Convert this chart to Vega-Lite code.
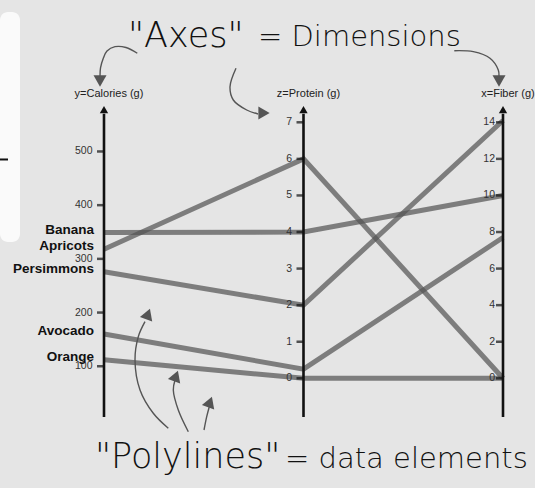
{
  "$schema": "https://vega.github.io/schema/vega-lite/v6.json",
  "width": 535,
  "height": 488,
  "autosize": "none",
  "padding": 0,
  "background": "#e5e5e5",
  "config": {"view": {"stroke": null}},
  "datasets": {
    "fruits": [
      {"fruit": "Banana", "Calories": 349, "Protein": 4, "Fiber": 10},
      {"fruit": "Apricots", "Calories": 318, "Protein": 6, "Fiber": 0},
      {"fruit": "Persimmons", "Calories": 276, "Protein": 2, "Fiber": 14.1},
      {"fruit": "Avocado", "Calories": 160, "Protein": 0.25, "Fiber": 7.7},
      {"fruit": "Orange", "Calories": 112, "Protein": 0, "Fiber": 0}
    ],
    "dims": [
      {"dim": "Calories", "title": "y=Calories (g)", "idx": 0, "lo": 5.5, "hi": 584.7},
      {"dim": "Protein", "title": "z=Protein (g)", "idx": 1, "lo": -1.058, "hi": 7.446},
      {"dim": "Fiber", "title": "x=Fiber (g)", "idx": 2, "lo": -2.116, "hi": 14.892}
    ],
    "ticks": [
      {"dim": "Calories", "value": 100}, {"dim": "Calories", "value": 200}, {"dim": "Calories", "value": 300},
      {"dim": "Calories", "value": 400}, {"dim": "Calories", "value": 500},
      {"dim": "Protein", "value": 0}, {"dim": "Protein", "value": 1}, {"dim": "Protein", "value": 2},
      {"dim": "Protein", "value": 3}, {"dim": "Protein", "value": 4}, {"dim": "Protein", "value": 5},
      {"dim": "Protein", "value": 6}, {"dim": "Protein", "value": 7},
      {"dim": "Fiber", "value": 0}, {"dim": "Fiber", "value": 2}, {"dim": "Fiber", "value": 4},
      {"dim": "Fiber", "value": 6}, {"dim": "Fiber", "value": 8}, {"dim": "Fiber", "value": 10},
      {"dim": "Fiber", "value": 12}, {"dim": "Fiber", "value": 14}
    ],
    "arrows": [
      {"arrow": "a1", "k": 0, "x": 0.1669, "y": 1.1695},
      {"arrow": "a1", "k": 1, "x": 0.1103, "y": 1.1881},
      {"arrow": "a1", "k": 2, "x": 0.0551, "y": 1.1907},
      {"arrow": "a1", "k": 3, "x": 0.0150, "y": 1.1768},
      {"arrow": "a1", "k": 4, "x": -0.0035, "y": 1.1534},
      {"arrow": "a1", "k": 5, "x": -0.0175, "y": 1.1222},
      {"arrow": "a1", "k": 6, "x": -0.0200, "y": 1.0965},
      {"arrow": "a2", "k": 0, "x": 0.6617, "y": 1.1212},
      {"arrow": "a2", "k": 1, "x": 0.6316, "y": 1.0621},
      {"arrow": "a2", "k": 2, "x": 0.6481, "y": 1.0193},
      {"arrow": "a2", "k": 3, "x": 0.7153, "y": 0.9871},
      {"arrow": "a2", "k": 4, "x": 0.7719, "y": 0.9743},
      {"arrow": "a3", "k": 0, "x": 1.7559, "y": 1.1778},
      {"arrow": "a3", "k": 1, "x": 1.8511, "y": 1.1746},
      {"arrow": "a3", "k": 2, "x": 1.9348, "y": 1.1534},
      {"arrow": "a3", "k": 3, "x": 1.9764, "y": 1.1158},
      {"arrow": "a3", "k": 4, "x": 1.9800, "y": 1.0965},
      {"arrow": "a4", "k": 0, "x": 0.3223, "y": -0.0363},
      {"arrow": "a4", "k": 1, "x": 0.2471, "y": 0.0119},
      {"arrow": "a4", "k": 2, "x": 0.1805, "y": 0.0868},
      {"arrow": "a4", "k": 3, "x": 0.1554, "y": 0.1833},
      {"arrow": "a4", "k": 4, "x": 0.1719, "y": 0.2582},
      {"arrow": "a4", "k": 5, "x": 0.2055, "y": 0.3064},
      {"arrow": "a5", "k": 0, "x": 0.4226, "y": -0.0473},
      {"arrow": "a5", "k": 1, "x": 0.3724, "y": 0.0225},
      {"arrow": "a5", "k": 2, "x": 0.3474, "y": 0.0868},
      {"arrow": "a5", "k": 3, "x": 0.3559, "y": 0.1190},
      {"arrow": "a6", "k": 0, "x": 0.5013, "y": -0.0418},
      {"arrow": "a6", "k": 1, "x": 0.5148, "y": 0.0010},
      {"arrow": "a6", "k": 2, "x": 0.5278, "y": 0.0331}
    ],
    "heads": [
      {"arrow": "a1", "dir": "down", "x": -0.0200, "y": 1.0804},
      {"arrow": "a3", "dir": "down", "x": 1.9800, "y": 1.0804},
      {"arrow": "a2", "dir": "right", "x": 0.8020, "y": 0.9775},
      {"arrow": "a4", "dir": "up", "x": 0.2206, "y": 0.3312},
      {"arrow": "a5", "dir": "up", "x": 0.3609, "y": 0.1318},
      {"arrow": "a6", "dir": "up", "x": 0.5313, "y": 0.0482}
    ],
    "notes": [
      {"role": "term", "label": "\"Axes\"", "x": 0.1203, "y": 1.1897},
      {"role": "meaning", "label": "= Dimensions", "x": 0.7719, "y": 1.1929},
      {"role": "term", "label": "\"Polylines\"", "x": -0.0451, "y": -0.164},
      {"role": "meaning", "label": "= data elements", "x": 0.9073, "y": -0.164}
    ],
    "panel": [
      {"x": -0.5213, "x2": -0.421, "y": 0.5627, "y2": 1.3023}
    ],
    "dash": [
      {"x": -0.5213, "x2": -0.4812, "y": 0.828}
    ]
  },
  "layer": [
    {
      "data": {"name": "panel"},
      "mark": {"type": "rect", "color": "#fafafa", "cornerRadius": 8},
      "encoding": {
        "x": {"field": "x", "type": "quantitative", "scale": {"domain": [-0.5213, 2.1604], "nice": false, "zero": false}, "axis": null},
        "x2": {"field": "x2"},
        "y": {"field": "y", "type": "quantitative", "scale": {"domain": [-0.2283, 1.3408], "nice": false, "zero": false}, "axis": null},
        "y2": {"field": "y2"}
      }
    },
    {
      "data": {"name": "dash"},
      "mark": {"type": "rule", "color": "#111", "strokeWidth": 2},
      "encoding": {
        "x": {"field": "x", "type": "quantitative"},
        "x2": {"field": "x2"},
        "y": {"field": "y", "type": "quantitative"}
      }
    },
    {
      "data": {"name": "fruits"},
      "transform": [
        {"fold": ["Calories", "Protein", "Fiber"], "as": ["dim", "value"]},
        {"lookup": "dim", "from": {"data": {"name": "dims"}, "key": "dim", "fields": ["idx", "lo", "hi"]}},
        {"calculate": "(datum.value - datum.lo) / (datum.hi - datum.lo)", "as": "norm"}
      ],
      "mark": {"type": "line", "color": "#555555", "opacity": 0.72, "strokeWidth": 5, "strokeCap": "butt", "strokeJoin": "miter"},
      "encoding": {
        "x": {"field": "idx", "type": "quantitative"},
        "y": {"field": "norm", "type": "quantitative"},
        "detail": {"field": "fruit"},
        "order": {"field": "idx"}
      }
    },
    {
      "data": {"name": "dims"},
      "mark": {"type": "rule", "color": "#111", "strokeWidth": 2.6},
      "encoding": {
        "x": {"field": "idx", "type": "quantitative"},
        "y": {"datum": 0},
        "y2": {"datum": 0.975}
      }
    },
    {
      "data": {"name": "dims"},
      "mark": {"type": "point", "shape": "triangle-up", "filled": true, "color": "#111", "opacity": 1, "size": 70},
      "encoding": {
        "x": {"field": "idx", "type": "quantitative"},
        "y": {"datum": 0.9887}
      }
    },
    {
      "data": {"name": "dims"},
      "mark": {"type": "text", "font": "Liberation Sans", "fontSize": 11, "color": "#222", "align": "center", "baseline": "middle", "dx": 5},
      "encoding": {
        "x": {"field": "idx", "type": "quantitative"},
        "y": {"datum": 1.0386},
        "text": {"field": "title"}
      }
    },
    {
      "data": {"name": "ticks"},
      "transform": [
        {"lookup": "dim", "from": {"data": {"name": "dims"}, "key": "dim", "fields": ["idx", "lo", "hi"]}},
        {"calculate": "(datum.value - datum.lo) / (datum.hi - datum.lo)", "as": "norm"}
      ],
      "mark": {"type": "tick", "orient": "horizontal", "color": "#111", "size": 7, "thickness": 2.5, "xOffset": -3.5},
      "encoding": {
        "x": {"field": "idx", "type": "quantitative"},
        "y": {"field": "norm", "type": "quantitative"}
      }
    },
    {
      "data": {"name": "ticks"},
      "transform": [
        {"filter": "datum.dim !== 'Fiber'"},
        {"lookup": "dim", "from": {"data": {"name": "dims"}, "key": "dim", "fields": ["idx", "lo", "hi"]}},
        {"calculate": "(datum.value - datum.lo) / (datum.hi - datum.lo)", "as": "norm"}
      ],
      "mark": {"type": "text", "font": "Liberation Sans", "fontSize": 10.5, "color": "#333", "align": "right", "baseline": "middle", "dx": -11.5},
      "encoding": {
        "x": {"field": "idx", "type": "quantitative"},
        "y": {"field": "norm", "type": "quantitative"},
        "text": {"field": "value", "type": "quantitative"}
      }
    },
    {
      "data": {"name": "ticks"},
      "transform": [
        {"filter": "datum.dim === 'Fiber'"},
        {"lookup": "dim", "from": {"data": {"name": "dims"}, "key": "dim", "fields": ["idx", "lo", "hi"]}},
        {"calculate": "(datum.value - datum.lo) / (datum.hi - datum.lo)", "as": "norm"}
      ],
      "mark": {"type": "text", "font": "Liberation Sans", "fontSize": 10.5, "color": "#333", "align": "right", "baseline": "middle", "dx": -8},
      "encoding": {
        "x": {"field": "idx", "type": "quantitative"},
        "y": {"field": "norm", "type": "quantitative"},
        "text": {"field": "value", "type": "quantitative"}
      }
    },
    {
      "data": {"name": "fruits"},
      "transform": [
        {"fold": ["Calories"], "as": ["dim", "value"]},
        {"lookup": "dim", "from": {"data": {"name": "dims"}, "key": "dim", "fields": ["idx", "lo", "hi"]}},
        {"calculate": "(datum.value - datum.lo) / (datum.hi - datum.lo)", "as": "norm"}
      ],
      "mark": {"type": "text", "font": "Liberation Sans", "fontWeight": "bold", "fontSize": 13.5, "color": "#111", "align": "right", "baseline": "middle", "dx": -10, "dy": -3},
      "encoding": {
        "x": {"field": "idx", "type": "quantitative"},
        "y": {"field": "norm", "type": "quantitative"},
        "text": {"field": "fruit"}
      }
    },
    {
      "data": {"name": "arrows"},
      "mark": {"type": "line", "color": "#555", "strokeWidth": 1.4, "interpolate": "catmull-rom"},
      "encoding": {
        "x": {"field": "x", "type": "quantitative"},
        "y": {"field": "y", "type": "quantitative"},
        "detail": {"field": "arrow"},
        "order": {"field": "k"}
      }
    },
    {
      "data": {"name": "heads"},
      "transform": [{"filter": "datum.dir === 'down'"}],
      "mark": {"type": "point", "shape": "triangle-down", "filled": true, "color": "#555", "opacity": 1, "size": 170},
      "encoding": {
        "x": {"field": "x", "type": "quantitative"},
        "y": {"field": "y", "type": "quantitative"}
      }
    },
    {
      "data": {"name": "heads"},
      "transform": [{"filter": "datum.dir === 'right'"}],
      "mark": {"type": "point", "shape": "triangle-right", "filled": true, "color": "#555", "opacity": 1, "size": 170},
      "encoding": {
        "x": {"field": "x", "type": "quantitative"},
        "y": {"field": "y", "type": "quantitative"}
      }
    },
    {
      "data": {"name": "heads"},
      "transform": [{"filter": "datum.dir === 'up'"}],
      "mark": {"type": "point", "shape": "triangle-up", "filled": true, "color": "#555", "opacity": 1, "size": 170, "angle": 20},
      "encoding": {
        "x": {"field": "x", "type": "quantitative"},
        "y": {"field": "y", "type": "quantitative"}
      }
    },
    {
      "data": {"name": "notes"},
      "transform": [{"filter": "datum.role === 'term'"}],
      "mark": {"type": "text", "font": "DejaVu Sans", "fontWeight": 200, "fontSize": 35, "color": "#111", "align": "left", "baseline": "alphabetic"},
      "encoding": {
        "x": {"field": "x", "type": "quantitative"},
        "y": {"field": "y", "type": "quantitative"},
        "text": {"field": "label"}
      }
    },
    {
      "data": {"name": "notes"},
      "transform": [{"filter": "datum.role === 'meaning'"}],
      "mark": {"type": "text", "font": "DejaVu Sans", "fontWeight": 200, "fontSize": 29, "color": "#111", "align": "left", "baseline": "alphabetic"},
      "encoding": {
        "x": {"field": "x", "type": "quantitative"},
        "y": {"field": "y", "type": "quantitative"},
        "text": {"field": "label"}
      }
    }
  ]
}
